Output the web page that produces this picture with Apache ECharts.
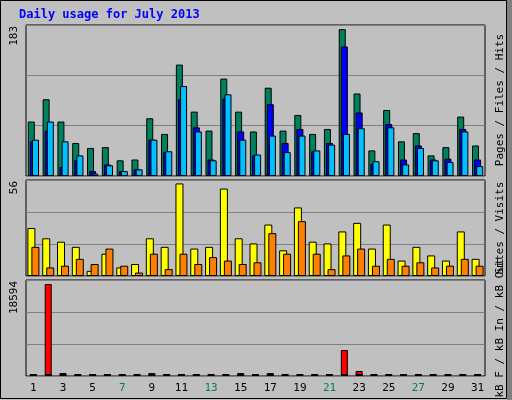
<!DOCTYPE html>
<html><head><meta charset="utf-8">
<script src="https://cdn.jsdelivr.net/npm/echarts@6/dist/echarts.min.js"></script>
<style>html,body{margin:0;padding:0;background:#c0c0c0}#main{width:512px;height:400px}</style>
</head><body><div id="main"></div>
<script>
var days = [];
for (var d = 1; d <= 31; d++) days.push(String(d));
var weekend = ['6', '7', '13', '14', '20', '21', '27', '28'];

var hits = [66,93,66,40,34,35,19,20,70,51,135,78,55,118,78,54,107,55,74,51,57,178,100,31,80,42,52,25,35,72,37];
var files = [42,55,11,19,6,14,6,8,44,29,93,59,20,94,54,25,87,40,57,30,40,157,77,15,63,20,37,20,21,57,20];
var pages = [44,66,42,25,3,13,6,8,44,30,109,54,19,99,44,26,49,29,49,31,38,51,58,18,59,14,34,19,17,54,12];
var visits = [28,22,20,17,3,13,5,7,22,17,54,16,17,51,22,19,30,15,40,20,19,26,31,16,30,9,17,12,9,26,10];
var sites = [17,5,6,10,7,16,6,2,13,4,13,7,11,9,7,8,25,13,32,13,4,12,16,6,10,6,8,5,6,10,6];
var kbF = [0,17819,580,0,0,0,0,0,580,0,0,0,0,0,580,0,580,0,0,0,0,5036,968,0,0,0,0,0,0,0,0];
var kbIn = [0,0,0,0,0,0,0,0,0,0,0,0,0,0,0,0,0,0,0,0,0,0,0,0,0,0,0,0,0,0,0];
var maxTop = 183, maxMid = 56, maxBot = 18594;

var font = 'DejaVu Sans Mono';
var chart = echarts.init(document.getElementById('main'));

function grid(top, h) {
  return { left: 26, right: 27, top: top, height: h, show: true, backgroundColor: '#c0c0c0', borderColor: '#000', borderWidth: 1 };
}
function yAx(i, max) {
  return { gridIndex: i, min: 0, max: max, interval: max / 3, axisLabel: { show: false }, axisTick: { show: false },
    axisLine: { show: false }, splitLine: { lineStyle: { color: '#808080', width: 1 } } };
}
function xAx(i, show) {
  return { gridIndex: i, type: 'category', data: days, axisTick: { show: false }, axisLine: { show: false },
    axisLabel: { show: show, fontFamily: font, fontSize: 11, margin: 7,
      color: function (v) { return weekend.indexOf(v) >= 0 ? '#00805c' : '#000'; } } };
}
function bar(name, data, xi, color, w, gap) {
  return { name: name, type: 'bar', data: data, xAxisIndex: xi, yAxisIndex: xi, barWidth: w, barGap: gap,
    barMinHeight: xi === 2 ? 2 : 0, animation: false,
    itemStyle: { color: color, borderColor: '#000', borderWidth: 1 } };
}
function sideLabel(y, parts) {
  var rich = {}, s = [];
  parts.forEach(function (p, k) { rich['p' + k] = { color: p[1], fontFamily: font, fontSize: 11 }; s.push('{p' + k + '|' + p[0] + '}'); });
  return { type: 'text', x: 500, y: y, rotation: Math.PI / 2,
    style: { text: s.join(''), rich: rich, align: 'center', verticalAlign: 'middle' } };
}
function maxLabel(y, v) {
  return { type: 'text', x: 14, y: y, rotation: Math.PI / 2,
    style: { text: String(v), fontFamily: font, fontSize: 11, fill: '#000', align: 'right', verticalAlign: 'middle' } };
}

chart.setOption({
  backgroundColor: '#c0c0c0',
  grid: [grid(25, 151), grid(180, 96), grid(280, 96)],
  xAxis: [xAx(0, false), xAx(1, false), xAx(2, true)],
  yAxis: [yAx(0, maxTop), yAx(1, maxMid), yAx(2, maxBot)],
  series: [
    bar('Hits', hits, 0, '#00805c', 7, '-70%'),
    bar('Files', files, 0, '#0000ff', 7, '-70%'),
    bar('Pages', pages, 0, '#00c0ff', 7, '-70%'),
    bar('Visits', visits, 1, '#ffff00', 8, '-50%'),
    bar('Sites', sites, 1, '#ff8000', 8, '-50%'),
    bar('kB F', kbF, 2, '#ff0000', 7, '-50%'),
    bar('kB In', kbIn, 2, 'rgba(0,0,0,0)', 7, '-100%')
  ],
  graphic: [
    { type: 'text', x: 19, y: 9, style: { text: 'Daily usage for July 2013', fontFamily: font, fontSize: 12, fontWeight: 'bold', fill: '#0000ff' } },
    { type: 'rect', shape: { x: 0.5, y: 0.5, width: 506, height: 398 }, style: { fill: 'none', stroke: '#000', lineWidth: 1 } },
    { type: 'rect', shape: { x: 507, y: 0, width: 5, height: 400 }, style: { fill: '#808080' } },
    maxLabel(26, maxTop), maxLabel(181, maxMid), maxLabel(281, maxBot),
    sideLabel(100, [['Pages', '#00c0ff'], [' / ', '#000'], ['Files', '#0000ff'], [' / ', '#000'], ['Hits', '#00805c']]),
    sideLabel(228, [['Sites', '#ff8000'], [' / ', '#000'], ['Visits', '#ffff00']]),
    sideLabel(328, [['kB F', '#ff0000'], [' / ', '#000'], ['kB In', '#0000ff'], [' / ', '#000'], ['kB Out', '#00805c']])
  ]
});
</script></body></html>
